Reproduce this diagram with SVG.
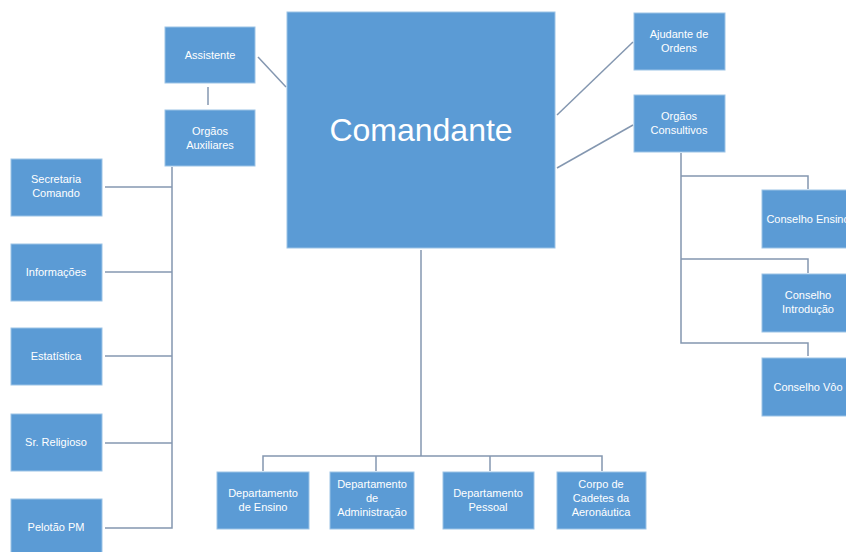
<svg xmlns="http://www.w3.org/2000/svg" width="846" height="552" viewBox="0 0 846 552">
<style>
.b{fill:#5b9bd5;stroke:#9cc3e6;stroke-width:1}
.t{font-family:"Liberation Sans",Arial,sans-serif;font-size:11px;fill:#ffffff;text-anchor:middle}
.c{fill:none;stroke:#8497b0;stroke-width:1.5}
</style>
<rect width="846" height="552" fill="#ffffff"/>
<g id="connectors">
<line class="c" x1="258" y1="57" x2="286" y2="87"/>
<line class="c" x1="208" y1="87" x2="208" y2="105"/>
<line class="c" x1="557" y1="115" x2="633" y2="42"/>
<line class="c" x1="557" y1="168" x2="633" y2="125"/>
<polyline class="c" points="172,167 172,528 105,528"/>
<line class="c" x1="105" y1="187" x2="172" y2="187"/>
<line class="c" x1="105" y1="272" x2="172" y2="272"/>
<line class="c" x1="105" y1="356" x2="172" y2="356"/>
<line class="c" x1="105" y1="443" x2="172" y2="443"/>
<polyline class="c" points="681,153 681,343 808,343 808,356"/>
<polyline class="c" points="681,176 808,176 808,189"/>
<polyline class="c" points="681,259 808,259 808,273"/>
<line class="c" x1="421" y1="250" x2="421" y2="456"/>
<polyline class="c" points="263,471 263,456 602,456 602,471"/>
<line class="c" x1="376" y1="456" x2="376" y2="471"/>
<line class="c" x1="490" y1="456" x2="490" y2="471"/>
</g>
<g id="comandante"><rect class="b" x="287" y="12" width="268" height="236"/><text class="t" x="421" y="141" style="font-size:32px">Comandante</text></g>
<g id="assistente"><rect class="b" x="165" y="27" width="90" height="56"/><text class="t" x="210" y="59">Assistente</text></g>
<g id="orgaos-auxiliares"><rect class="b" x="165" y="110" width="90" height="56"/><text class="t" x="210" y="135">Orgãos</text><text class="t" x="210" y="149">Auxiliares</text></g>
<g id="ajudante"><rect class="b" x="634" y="13" width="91" height="57"/><text class="t" x="679" y="38">Ajudante de</text><text class="t" x="679" y="52">Ordens</text></g>
<g id="orgaos-consultivos"><rect class="b" x="634" y="95" width="91" height="57"/><text class="t" x="679" y="120">Orgãos</text><text class="t" x="679" y="134">Consultivos</text></g>
<g id="secretaria"><rect class="b" x="11" y="159" width="91" height="57"/><text class="t" x="56" y="183">Secretaria</text><text class="t" x="56" y="197">Comando</text></g>
<g id="informacoes"><rect class="b" x="11" y="244" width="91" height="57"/><text class="t" x="56" y="276">Informações</text></g>
<g id="estatistica"><rect class="b" x="11" y="328" width="91" height="57"/><text class="t" x="56" y="360">Estatística</text></g>
<g id="religioso"><rect class="b" x="11" y="414" width="91" height="57"/><text class="t" x="56" y="446">Sr. Religioso</text></g>
<g id="pelotao"><rect class="b" x="11" y="499" width="91" height="57"/><text class="t" x="56" y="531">Pelotão PM</text></g>
<g id="conselho-ensino"><rect class="b" x="762" y="190" width="92" height="58"/><text class="t" x="808" y="223">Conselho Ensino</text></g>
<g id="conselho-introducao"><rect class="b" x="762" y="274" width="92" height="58"/><text class="t" x="808" y="299">Conselho</text><text class="t" x="808" y="313">Introdução</text></g>
<g id="conselho-voo"><rect class="b" x="762" y="358" width="92" height="58"/><text class="t" x="808" y="391">Conselho Vôo</text></g>
<g id="dep-ensino"><rect class="b" x="217" y="472" width="92" height="57"/><text class="t" x="263" y="497">Departamento</text><text class="t" x="263" y="511">de Ensino</text></g>
<g id="dep-admin"><rect class="b" x="330" y="472" width="84" height="57"/><text class="t" x="372" y="488">Departamento</text><text class="t" x="372" y="502">de</text><text class="t" x="372" y="516">Administração</text></g>
<g id="dep-pessoal"><rect class="b" x="443" y="472" width="91" height="57"/><text class="t" x="488" y="497">Departamento</text><text class="t" x="488" y="511">Pessoal</text></g>
<g id="cadetes"><rect class="b" x="557" y="472" width="89" height="57"/><text class="t" x="601" y="488">Corpo de</text><text class="t" x="601" y="502">Cadetes da</text><text class="t" x="601" y="516">Aeronáutica</text></g>
</svg>
